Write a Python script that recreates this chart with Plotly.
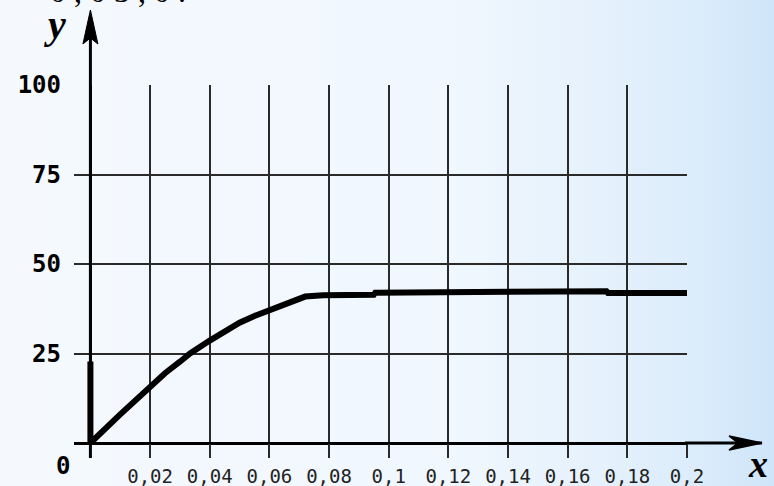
import plotly.graph_objects as go

# ---- data ----
x_values = [0, 0, 0.01, 0.02, 0.025, 0.03, 0.0334, 0.04, 0.045, 0.05, 0.055, 0.06, 0.066, 0.072, 0.078,
            0.095, 0.0955, 0.123, 0.1235, 0.173, 0.1735, 0.2]
y_values = [22.8, 0, 8.0, 15.9, 19.5, 22.7, 25.0, 28.6, 31.3, 33.6, 35.5, 37.1, 39.1, 40.9, 41.3,
            41.4, 42.0, 42.0, 42.4, 42.4, 41.9, 41.9]

x_tick_values = [0, 0.02, 0.04, 0.06, 0.08, 0.1, 0.12, 0.14, 0.16, 0.18, 0.2]
x_tick_labels = ["", "0,02", "0,04", "0,06", "0,08", "0,1", "0,12", "0,14", "0,16", "0,18", "0,2"]
y_tick_values = [25, 50, 75, 100]
y_tick_labels = ["25", "50", "75", "100"]

# ---- layout geometry (pixels) ----
W, H = 774, 486
ML, MR, MT, MB = 74, 87, 85, 43
PW = W - ML - MR
PH = H - MT - MB
XMIN, XMAX = -0.0055, 0.2


def xp(px):
    return (px - ML) / PW


def yp(py):
    return (H - MB - py) / PH


fig = go.Figure()

fig.add_trace(go.Scatter(
    x=x_values, y=y_values, mode="lines",
    line=dict(color="black", width=6),
    hoverinfo="skip", showlegend=False, cliponaxis=False,
))

shapes = []
# background gradient (light blue on the right)
anchors = [(0, (245, 249, 254)), (450, (240, 247, 254)), (600, (229, 241, 252)),
           (700, (219, 236, 251)), (774, (207, 229, 250))]


def col(px):
    for (a, ca), (b, cb) in zip(anchors[:-1], anchors[1:]):
        if a <= px <= b:
            t = (px - a) / (b - a)
            return "rgb(%d,%d,%d)" % tuple(round(ca[i] + (cb[i] - ca[i]) * t) for i in range(3))
    return "rgb(%d,%d,%d)" % anchors[-1][1]


step = 8
for p in range(0, W, step):
    shapes.append(dict(type="rect", xref="paper", yref="paper",
                       x0=xp(p), x1=xp(p + step + 1), y0=yp(H), y1=yp(0),
                       line=dict(width=0), fillcolor=col(p + step / 2), layer="below"))

# axis extensions with arrows
x0px = ML + (0 - XMIN) / (XMAX - XMIN) * PW
yb = H - MB
shapes.append(dict(type="line", xref="paper", yref="paper",
                   x0=xp(x0px), x1=xp(x0px), y0=yp(458), y1=yp(38),
                   line=dict(color="black", width=3)))
shapes.append(dict(type="path", xref="paper", yref="paper",
                   path="M %f %f L %f %f L %f %f L %f %f Z" % (
                       xp(x0px - 7.5), yp(44), xp(x0px), yp(10), xp(x0px + 7.5), yp(44),
                       xp(x0px), yp(38)),
                   fillcolor="black", line=dict(color="black", width=1)))
shapes.append(dict(type="line", xref="paper", yref="paper",
                   x0=xp(ML + PW - 2), x1=xp(762), y0=yp(yb), y1=yp(yb),
                   line=dict(color="black", width=3)))
shapes.append(dict(type="path", xref="paper", yref="paper",
                   path="M %f %f L %f %f L %f %f L %f %f Z" % (
                       xp(729), yp(yb - 7), xp(762), yp(yb), xp(729), yp(yb + 7),
                       xp(738), yp(yb)),
                   fillcolor="black", line=dict(color="black", width=1.5)))

annotations = [
    dict(text="y", xref="paper", yref="paper", x=xp(55), y=yp(24), xanchor="center", yanchor="middle",
         showarrow=False, font=dict(family="Liberation Serif", size=40, color="black", weight="bold", style="italic")),
    dict(text="x", xref="paper", yref="paper", x=xp(758), y=yp(464), xanchor="center", yanchor="middle",
         showarrow=False, font=dict(family="Liberation Serif", size=38, color="black", weight="bold", style="italic")),
    dict(text="0", xref="paper", yref="paper", x=xp(62.5), y=yp(466), xanchor="center", yanchor="middle",
         showarrow=False, font=dict(family="DejaVu Sans Mono", size=24, color="black", weight="bold")),
    dict(text="0 , 0 3 , 0 .", xref="paper", yref="paper", x=xp(48), y=yp(11), xanchor="left", yanchor="bottom",
         showarrow=False, font=dict(family="Liberation Serif", size=32, color="black")),
]

fig.update_layout(
    width=W, height=H,
    margin=dict(l=ML, r=MR, t=MT, b=MB, pad=0, autoexpand=False),
    paper_bgcolor="rgb(245,249,254)",
    plot_bgcolor="rgba(0,0,0,0)",
    shapes=shapes, annotations=annotations,
    showlegend=False,
)
fig.update_xaxes(
    range=[XMIN, XMAX], tickvals=x_tick_values, ticktext=x_tick_labels,
    showgrid=True, gridcolor="#2a2a2a", gridwidth=2,
    zeroline=True, zerolinecolor="black", zerolinewidth=3,
    ticks="outside", ticklen=14, tickwidth=2, tickcolor="#2a2a2a",
    tickfont=dict(family="DejaVu Sans Mono", size=19, color="#222"),
    ticklabelstandoff=2, showline=False, fixedrange=True, automargin=False,
)
fig.update_yaxes(
    range=[0, 100], tickvals=y_tick_values, ticktext=y_tick_labels,
    showgrid=True, gridcolor="#2a2a2a", gridwidth=2,
    zeroline=True, zerolinecolor="black", zerolinewidth=3,
    ticks="", tickfont=dict(family="DejaVu Sans Mono", size=24, color="black", weight="bold"),
    ticklabelstandoff=12, showline=False, fixedrange=True, automargin=False,
)

fig.write_html(
    "out.html",
    config={"displayModeBar": False},
    post_script="document.body.style.margin='0';document.body.style.overflow='hidden';",
)
